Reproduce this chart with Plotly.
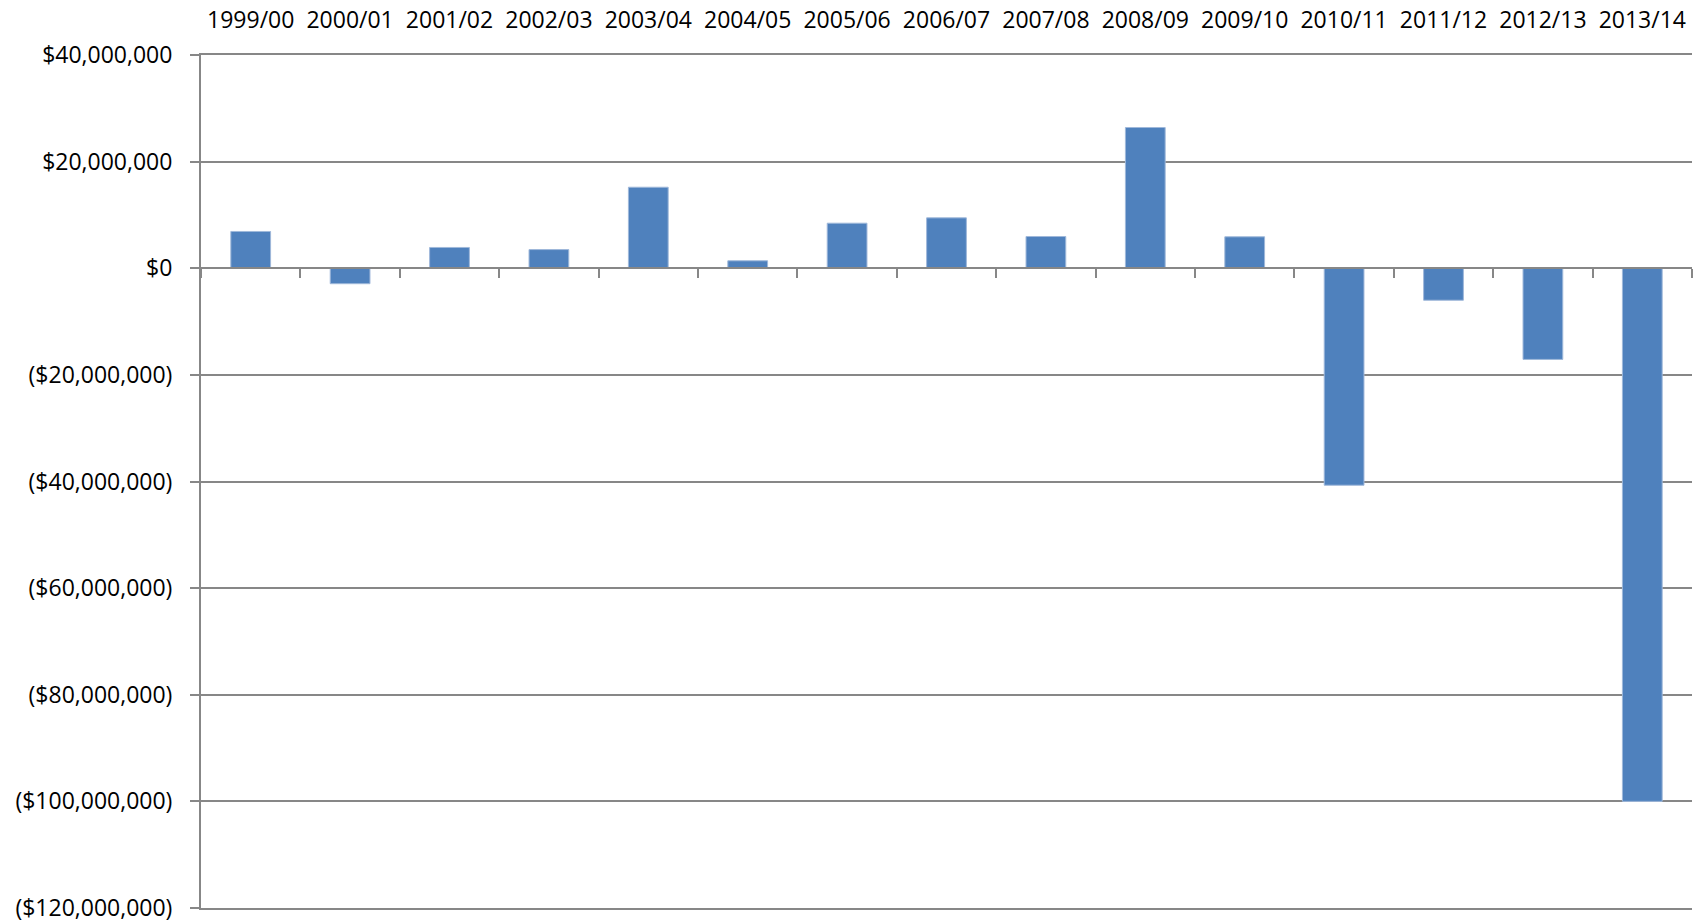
import plotly.graph_objects as go

categories = ["1999/00", "2000/01", "2001/02", "2002/03", "2003/04", "2004/05",
              "2005/06", "2006/07", "2007/08", "2008/09", "2009/10", "2010/11",
              "2011/12", "2012/13", "2013/14"]
values = [6_900_000, -2_900_000, 3_900_000, 3_500_000, 15_200_000, 1_400_000,
          8_450_000, 9_450_000, 5_950_000, 26_400_000, 5_900_000, -40_700_000,
          -6_000_000, -17_100_000, -100_000_000]

y_tick_values = [40_000_000, 20_000_000, 0, -20_000_000, -40_000_000, -60_000_000,
                 -80_000_000, -100_000_000, -120_000_000]
y_tick_labels = ["$40,000,000", "$20,000,000", "$0", "($20,000,000)", "($40,000,000)",
                 "($60,000,000)", "($80,000,000)", "($100,000,000)", "($120,000,000)"]

y_min, y_max = -120_000_000, 40_000_000
GRID = "#878787"
FONT = dict(family="Open Sans", size=23, color="#000000")

fig = go.Figure()
fig.add_trace(go.Bar(
    x=categories, y=values, width=0.4,
    marker=dict(color="#4F81BD", line=dict(color="#9FB8DA", width=1)),
    showlegend=False, hoverinfo="x+y",
))
# invisible trace to carry the category axis drawn at zero (tick marks between categories)
fig.add_trace(go.Scatter(
    x=categories, y=values, xaxis="x2", mode="markers",
    marker=dict(opacity=0), showlegend=False, hoverinfo="skip",
))

zero_pos = (0 - y_min) / (y_max - y_min)

fig.update_layout(
    width=1694, height=924,
    margin=dict(l=201, r=2, t=55, b=16),
    paper_bgcolor="white", plot_bgcolor="white",
    font=FONT,
    bargap=0.6,
    xaxis=dict(
        type="category", side="top", range=[-0.5, len(categories) - 0.5],
        showgrid=False, showline=True, mirror=True, linecolor=GRID, linewidth=1.5,
        ticks="", zeroline=False,
        tickfont=FONT, ticklabelstandoff=16,
    ),
    xaxis2=dict(
        type="category", overlaying="x", anchor="free", position=zero_pos,
        matches="x", side="bottom", showticklabels=False, showgrid=False,
        showline=True, linecolor=GRID, linewidth=2,
        ticks="outside", ticklen=9, tickwidth=1.5, tickcolor=GRID,
        tickson="boundaries",
    ),
    yaxis=dict(
        range=[y_min, y_max], tickvals=y_tick_values, ticktext=y_tick_labels,
        showgrid=True, gridcolor=GRID, gridwidth=1.5,
        showline=True, linecolor=GRID, linewidth=2,
        ticks="outside", ticklen=9, tickwidth=1.5, tickcolor=GRID,
        zeroline=False, tickfont=FONT, ticklabelstandoff=13,
    ),
)

fig.write_html("out.html")
